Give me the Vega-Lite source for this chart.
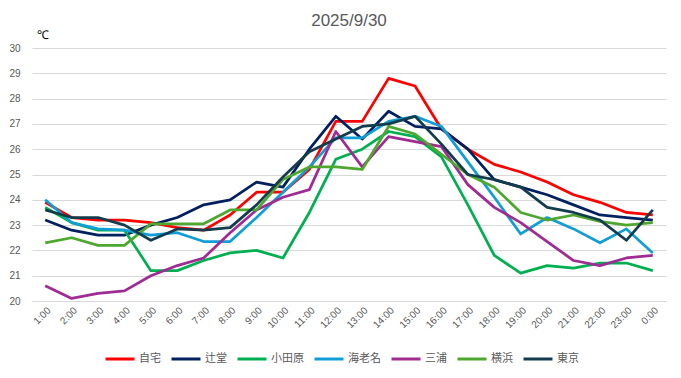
{
  "$schema": "https://vega.github.io/schema/vega-lite/v6.json",
  "autosize": {"type": "none"},
  "width": 634,
  "height": 253,
  "padding": {"left": 32, "top": 48, "right": 15, "bottom": 77},
  "background": "#ffffff",
  "title": {"text": "2025/9/30", "fontSize": 17, "fontWeight": "normal", "color": "#595959", "font": "Liberation Sans", "offset": -2, "anchor": "middle"},
  "config": {
    "view": {"stroke": null},
    "axis": {"labelFont": "Liberation Sans", "labelColor": "#595959", "labelFontSize": 10, "gridColor": "#d9d9d9", "gridWidth": 1}
  },
  "data": {"values": [
    {"t":"1:00","s":"自宅","v":23.9},{"t":"2:00","s":"自宅","v":23.3},{"t":"3:00","s":"自宅","v":23.2},{"t":"4:00","s":"自宅","v":23.2},{"t":"5:00","s":"自宅","v":23.1},{"t":"6:00","s":"自宅","v":22.9},{"t":"7:00","s":"自宅","v":22.8},{"t":"8:00","s":"自宅","v":23.4},{"t":"9:00","s":"自宅","v":24.3},{"t":"10:00","s":"自宅","v":24.3},{"t":"11:00","s":"自宅","v":25.2},{"t":"12:00","s":"自宅","v":27.1},{"t":"13:00","s":"自宅","v":27.1},{"t":"14:00","s":"自宅","v":28.8},{"t":"15:00","s":"自宅","v":28.5},{"t":"16:00","s":"自宅","v":26.8},{"t":"17:00","s":"自宅","v":26.0},{"t":"18:00","s":"自宅","v":25.4},{"t":"19:00","s":"自宅","v":25.1},{"t":"20:00","s":"自宅","v":24.7},{"t":"21:00","s":"自宅","v":24.2},{"t":"22:00","s":"自宅","v":23.9},{"t":"23:00","s":"自宅","v":23.5},{"t":"0:00","s":"自宅","v":23.4},
    {"t":"1:00","s":"辻堂","v":23.2},{"t":"2:00","s":"辻堂","v":22.8},{"t":"3:00","s":"辻堂","v":22.6},{"t":"4:00","s":"辻堂","v":22.6},{"t":"5:00","s":"辻堂","v":23.0},{"t":"6:00","s":"辻堂","v":23.3},{"t":"7:00","s":"辻堂","v":23.8},{"t":"8:00","s":"辻堂","v":24.0},{"t":"9:00","s":"辻堂","v":24.7},{"t":"10:00","s":"辻堂","v":24.5},{"t":"11:00","s":"辻堂","v":26.0},{"t":"12:00","s":"辻堂","v":27.3},{"t":"13:00","s":"辻堂","v":26.4},{"t":"14:00","s":"辻堂","v":27.5},{"t":"15:00","s":"辻堂","v":26.9},{"t":"16:00","s":"辻堂","v":26.8},{"t":"17:00","s":"辻堂","v":26.0},{"t":"18:00","s":"辻堂","v":24.8},{"t":"19:00","s":"辻堂","v":24.5},{"t":"20:00","s":"辻堂","v":24.2},{"t":"21:00","s":"辻堂","v":23.8},{"t":"22:00","s":"辻堂","v":23.4},{"t":"23:00","s":"辻堂","v":23.3},{"t":"0:00","s":"辻堂","v":23.2},
    {"t":"1:00","s":"小田原","v":23.7},{"t":"2:00","s":"小田原","v":23.1},{"t":"3:00","s":"小田原","v":22.8},{"t":"4:00","s":"小田原","v":22.8},{"t":"5:00","s":"小田原","v":21.2},{"t":"6:00","s":"小田原","v":21.2},{"t":"7:00","s":"小田原","v":21.6},{"t":"8:00","s":"小田原","v":21.9},{"t":"9:00","s":"小田原","v":22.0},{"t":"10:00","s":"小田原","v":21.7},{"t":"11:00","s":"小田原","v":23.5},{"t":"12:00","s":"小田原","v":25.6},{"t":"13:00","s":"小田原","v":26.0},{"t":"14:00","s":"小田原","v":26.7},{"t":"15:00","s":"小田原","v":26.5},{"t":"16:00","s":"小田原","v":25.7},{"t":"17:00","s":"小田原","v":23.8},{"t":"18:00","s":"小田原","v":21.8},{"t":"19:00","s":"小田原","v":21.1},{"t":"20:00","s":"小田原","v":21.4},{"t":"21:00","s":"小田原","v":21.3},{"t":"22:00","s":"小田原","v":21.5},{"t":"23:00","s":"小田原","v":21.5},{"t":"0:00","s":"小田原","v":21.2},
    {"t":"1:00","s":"海老名","v":24.0},{"t":"2:00","s":"海老名","v":23.1},{"t":"3:00","s":"海老名","v":22.85},{"t":"4:00","s":"海老名","v":22.8},{"t":"5:00","s":"海老名","v":22.6},{"t":"6:00","s":"海老名","v":22.7},{"t":"7:00","s":"海老名","v":22.35},{"t":"8:00","s":"海老名","v":22.35},{"t":"9:00","s":"海老名","v":23.3},{"t":"10:00","s":"海老名","v":24.3},{"t":"11:00","s":"海老名","v":25.3},{"t":"12:00","s":"海老名","v":26.45},{"t":"13:00","s":"海老名","v":26.45},{"t":"14:00","s":"海老名","v":27.1},{"t":"15:00","s":"海老名","v":27.3},{"t":"16:00","s":"海老名","v":26.9},{"t":"17:00","s":"海老名","v":25.5},{"t":"18:00","s":"海老名","v":24.1},{"t":"19:00","s":"海老名","v":22.65},{"t":"20:00","s":"海老名","v":23.3},{"t":"21:00","s":"海老名","v":22.85},{"t":"22:00","s":"海老名","v":22.3},{"t":"23:00","s":"海老名","v":22.85},{"t":"0:00","s":"海老名","v":21.9},
    {"t":"1:00","s":"三浦","v":20.6},{"t":"2:00","s":"三浦","v":20.1},{"t":"3:00","s":"三浦","v":20.3},{"t":"4:00","s":"三浦","v":20.4},{"t":"5:00","s":"三浦","v":21.0},{"t":"6:00","s":"三浦","v":21.4},{"t":"7:00","s":"三浦","v":21.7},{"t":"8:00","s":"三浦","v":22.7},{"t":"9:00","s":"三浦","v":23.6},{"t":"10:00","s":"三浦","v":24.1},{"t":"11:00","s":"三浦","v":24.4},{"t":"12:00","s":"三浦","v":26.7},{"t":"13:00","s":"三浦","v":25.3},{"t":"14:00","s":"三浦","v":26.5},{"t":"15:00","s":"三浦","v":26.3},{"t":"16:00","s":"三浦","v":26.1},{"t":"17:00","s":"三浦","v":24.6},{"t":"18:00","s":"三浦","v":23.7},{"t":"19:00","s":"三浦","v":23.1},{"t":"20:00","s":"三浦","v":22.35},{"t":"21:00","s":"三浦","v":21.6},{"t":"22:00","s":"三浦","v":21.4},{"t":"23:00","s":"三浦","v":21.7},{"t":"0:00","s":"三浦","v":21.8},
    {"t":"1:00","s":"横浜","v":22.3},{"t":"2:00","s":"横浜","v":22.5},{"t":"3:00","s":"横浜","v":22.2},{"t":"4:00","s":"横浜","v":22.2},{"t":"5:00","s":"横浜","v":23.05},{"t":"6:00","s":"横浜","v":23.05},{"t":"7:00","s":"横浜","v":23.05},{"t":"8:00","s":"横浜","v":23.6},{"t":"9:00","s":"横浜","v":23.6},{"t":"10:00","s":"横浜","v":24.8},{"t":"11:00","s":"横浜","v":25.3},{"t":"12:00","s":"横浜","v":25.3},{"t":"13:00","s":"横浜","v":25.2},{"t":"14:00","s":"横浜","v":26.9},{"t":"15:00","s":"横浜","v":26.6},{"t":"16:00","s":"横浜","v":25.8},{"t":"17:00","s":"横浜","v":25.0},{"t":"18:00","s":"横浜","v":24.5},{"t":"19:00","s":"横浜","v":23.5},{"t":"20:00","s":"横浜","v":23.2},{"t":"21:00","s":"横浜","v":23.4},{"t":"22:00","s":"横浜","v":23.15},{"t":"23:00","s":"横浜","v":23.0},{"t":"0:00","s":"横浜","v":23.1},
    {"t":"1:00","s":"東京","v":23.6},{"t":"2:00","s":"東京","v":23.3},{"t":"3:00","s":"東京","v":23.3},{"t":"4:00","s":"東京","v":23.0},{"t":"5:00","s":"東京","v":22.4},{"t":"6:00","s":"東京","v":22.85},{"t":"7:00","s":"東京","v":22.8},{"t":"8:00","s":"東京","v":22.9},{"t":"9:00","s":"東京","v":23.8},{"t":"10:00","s":"東京","v":24.9},{"t":"11:00","s":"東京","v":25.9},{"t":"12:00","s":"東京","v":26.4},{"t":"13:00","s":"東京","v":26.9},{"t":"14:00","s":"東京","v":27.0},{"t":"15:00","s":"東京","v":27.3},{"t":"16:00","s":"東京","v":26.2},{"t":"17:00","s":"東京","v":25.0},{"t":"18:00","s":"東京","v":24.8},{"t":"19:00","s":"東京","v":24.5},{"t":"20:00","s":"東京","v":23.7},{"t":"21:00","s":"東京","v":23.5},{"t":"22:00","s":"東京","v":23.2},{"t":"23:00","s":"東京","v":22.4},{"t":"0:00","s":"東京","v":23.6}
  ]},
  "mark": {"type": "line", "strokeWidth": 2.75, "strokeJoin": "round"},
  "encoding": {
    "x": {"field": "t", "type": "ordinal", "sort": null, "scale": {"type": "point", "padding": 0.5},
      "axis": {"title": null, "labelAngle": -45, "labelAlign": "right", "labelBaseline": "top", "labelPadding": 4, "ticks": false, "domain": true, "domainColor": "#d9d9d9", "grid": false}},
    "y": {"field": "v", "type": "quantitative", "scale": {"domain": [20, 30], "nice": false, "zero": false},
      "axis": {"values": [20,21,22,23,24,25,26,27,28,29,30], "ticks": false, "domain": false, "grid": true, "labelPadding": 12,
        "title": "℃", "titleAngle": 0, "titleAlign": "left", "titleBaseline": "alphabetic", "titleX": 4, "titleY": -10, "titleFontSize": 12, "titleFontWeight": "normal", "titleColor": "#000000", "titleFont": "Liberation Sans"}},
    "color": {"field": "s", "type": "nominal", "sort": null,
      "scale": {"domain": ["自宅","辻堂","小田原","海老名","三浦","横浜","東京"], "range": ["#FF0000","#002060","#00B050","#0F9ED5","#A02B93","#4EA72E","#133C4C"]},
      "legend": {"title": null, "orient": "none", "direction": "horizontal", "legendX": 72, "legendY": 295, "symbolType": "stroke", "symbolSize": 841, "symbolStrokeWidth": 3, "labelFont": "Noto Sans CJK JP", "labelFontSize": 11, "labelColor": "#595959", "labelOffset": 3, "columnPadding": 4}}
  }
}
